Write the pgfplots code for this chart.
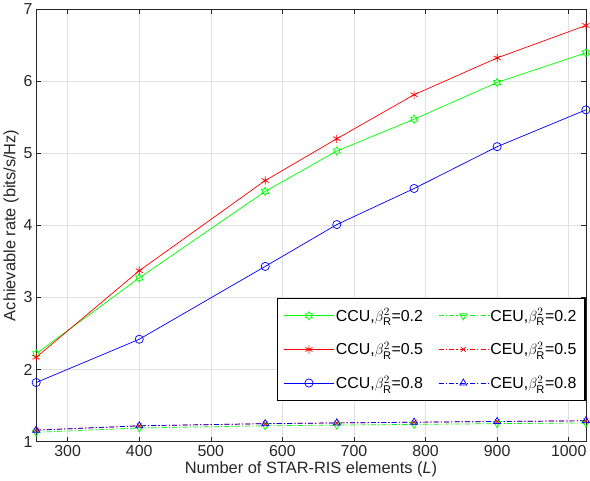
\documentclass[border=0pt]{standalone}
\usepackage{pgfplots}
\pgfplotsset{compat=1.18}
\usepackage{amsmath}
\usepackage{fontspec}
\setmainfont{Liberation Sans}
\usetikzlibrary{plotmarks}
\definecolor{axgray}{rgb}{0.15,0.15,0.15}
\definecolor{gridgray}{rgb}{0.88,0.88,0.88}
\pgfdeclareplotmark{hexagram}{%
  \pgfpathmoveto{\pgfqpointpolar{90}{\pgfplotmarksize}}%
  \pgfpathlineto{\pgfqpointpolar{120}{0.577\pgfplotmarksize}}%
  \pgfpathlineto{\pgfqpointpolar{150}{\pgfplotmarksize}}%
  \pgfpathlineto{\pgfqpointpolar{180}{0.577\pgfplotmarksize}}%
  \pgfpathlineto{\pgfqpointpolar{210}{\pgfplotmarksize}}%
  \pgfpathlineto{\pgfqpointpolar{240}{0.577\pgfplotmarksize}}%
  \pgfpathlineto{\pgfqpointpolar{270}{\pgfplotmarksize}}%
  \pgfpathlineto{\pgfqpointpolar{300}{0.577\pgfplotmarksize}}%
  \pgfpathlineto{\pgfqpointpolar{330}{\pgfplotmarksize}}%
  \pgfpathlineto{\pgfqpointpolar{0}{0.577\pgfplotmarksize}}%
  \pgfpathlineto{\pgfqpointpolar{30}{\pgfplotmarksize}}%
  \pgfpathlineto{\pgfqpointpolar{60}{0.577\pgfplotmarksize}}%
  \pgfpathclose\pgfusepathqstroke}
\pgfplotsset{
  legline/.style={legend image code/.code={%
    \draw[draw=#1, color=#1] (0pt,0pt) -- (48pt,0pt);
    \draw[draw=#1, color=#1, mark repeat=2, mark phase=2] plot coordinates {(0pt,0pt)(24pt,0pt)(48pt,0pt)};}},
}
\begin{document}
\begin{tikzpicture}
\begin{axis}[
  scale only axis,
  width=536pt, height=422pt,
  xmin=256, xmax=1024, ymin=1, ymax=7,
  xtick={300,400,...,1000}, ytick={1,2,...,7},
  grid=major,
  major grid style={gridgray, line width=0.6pt},
  axis line style={axgray, line width=0.6pt},
  tick style={axgray, line width=0.6pt},
  tick align=inside,
  major tick length=5pt,
  ticklabel style={font=\fontsize{15.5}{17}\selectfont, text=axgray},
  /pgf/number format/assume math mode=true,
  /pgf/number format/1000 sep={},
  xlabel={Number of STAR-RIS elements (\textit{L})},
  ylabel={Achievable rate (bits/s/Hz)},
  label style={font=\fontsize{16}{18}\selectfont, text=axgray},
  xlabel style={yshift=2pt},
  ylabel style={yshift=-2pt},
  legend columns=2,
  legend style={name=leg, at={(0.998,0.095)}, anchor=south east, draw=none,
    font=\fontsize{15.5}{17}\selectfont, fill=white, row sep=15pt,
    /tikz/every even column/.append style={column sep=13pt},
    inner xsep=6pt, inner ysep=8pt},
  legend cell align=left,
  mark size=4pt,
]
% CCU 0.2
\addplot[color=green, line width=0.7pt, mark=hexagram, mark options={solid, line width=0.7pt}, legline=green] coordinates {
 (256,2.22) (400,3.27) (576,4.47) (676,5.03) (784,5.47) (900,5.98) (1024,6.39)};
\addlegendentry{CCU,$\beta^2_{\text{R}}$=0.2}
% CEU 0.2
\addplot[color=green, line width=0.7pt, dash pattern=on 5pt off 2pt on 1.2pt off 2pt, mark=triangle, mark options={solid, rotate=180, line width=0.7pt}, legline=green] coordinates {
 (256,1.13) (400,1.19) (576,1.22) (676,1.23) (784,1.24) (900,1.25) (1024,1.26)};
\addlegendentry{CEU,$\beta^2_{\text{R}}$=0.2}
% CCU 0.5
\addplot[color=red, line width=0.7pt, mark=asterisk, mark options={solid, line width=0.7pt}, legline=red] coordinates {
 (256,2.17) (400,3.37) (576,4.62) (676,5.20) (784,5.81) (900,6.32) (1024,6.77)};
\addlegendentry{CCU,$\beta^2_{\text{R}}$=0.5}
% CEU 0.5
\addplot[color=red, line width=0.7pt, dash pattern=on 5pt off 2pt on 1.2pt off 2pt, mark=x, mark options={solid, line width=0.7pt, scale=0.8}, legline=red] coordinates {
 (256,1.16) (400,1.22) (576,1.25) (676,1.26) (784,1.27) (900,1.28) (1024,1.29)};
\addlegendentry{CEU,$\beta^2_{\text{R}}$=0.5}
% CCU 0.8
\addplot[color=blue, line width=0.7pt, mark=o, mark options={solid, line width=0.7pt}, legline=blue] coordinates {
 (256,1.82) (400,2.42) (576,3.43) (676,4.01) (784,4.51) (900,5.09) (1024,5.60)};
\addlegendentry{CCU,$\beta^2_{\text{R}}$=0.8}
% CEU 0.8
\addplot[color=blue, line width=0.7pt, dash pattern=on 5pt off 2pt on 1.2pt off 2pt, mark=triangle, mark options={solid, line width=0.7pt}, legline=blue] coordinates {
 (256,1.16) (400,1.22) (576,1.25) (676,1.26) (784,1.27) (900,1.28) (1024,1.29)};
\addlegendentry{CEU,$\beta^2_{\text{R}}$=0.8}
\end{axis}
\draw[black, line width=1.5pt] (leg.south west) rectangle (leg.north east);
\end{tikzpicture}
\end{document}
